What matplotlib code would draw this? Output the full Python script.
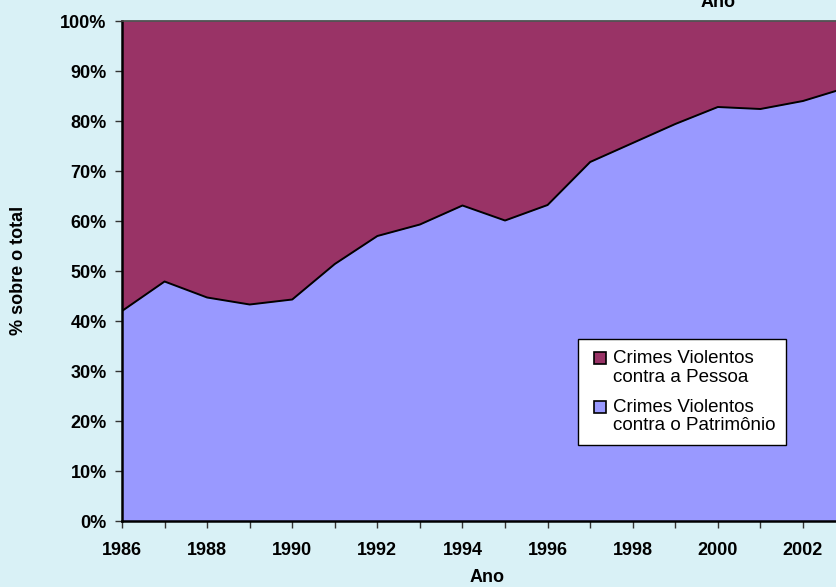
import numpy as np
import matplotlib
matplotlib.use("Agg")
import matplotlib.pyplot as plt
from matplotlib.lines import Line2D
from matplotlib.legend_handler import HandlerLine2D

plt.rcParams['font.family'] = ['Liberation Sans', 'DejaVu Sans']

anos = [1986, 1987, 1988, 1989, 1990, 1991, 1992, 1993, 1994,
        1995, 1996, 1997, 1998, 1999, 2000, 2001, 2002, 2003]
patrimonio = [42.0, 47.9, 44.7, 43.3, 44.3, 51.4, 57.0, 59.3, 63.1,
              60.1, 63.2, 71.8, 75.6, 79.4, 82.8, 82.4, 84.0, 86.6]
pessoa = [58.0, 52.1, 55.3, 56.7, 55.7, 48.6, 43.0, 40.7, 36.9,
          39.9, 36.8, 28.2, 24.4, 20.6, 17.2, 17.6, 16.0, 13.4]
rotulos = ["Crimes Violentos\ncontra a Pessoa",
           "Crimes Violentos\ncontra o Patrimônio"]

cor_pessoa = '#993366'
cor_patr = '#9999ff'
fundo = '#d9f1f6'


# marcador da legenda alinhado com a primeira linha do texto
class MarcadorTopo(HandlerLine2D):
    def create_artists(self, legend, orig_handle, xdescent, ydescent,
                       width, height, fontsize, trans):
        arts = super().create_artists(legend, orig_handle, xdescent, ydescent,
                                      width, height, fontsize, trans)
        for a in arts:
            a.set_ydata(np.asarray(a.get_ydata()) + 0.5 * fontsize)
        return arts


fig = plt.figure(figsize=(8.37, 5.87), dpi=100)
fig.patch.set_facecolor(fundo)
W, H = 837, 587
x0, x1 = 122, 845.5
y0, y1 = 521, 21
ax = fig.add_axes([x0 / W, 1 - y0 / H, (x1 - x0) / W, (y0 - y1) / H])
ax.set_facecolor(fundo)

x = np.array(anos)
baixo = np.array(patrimonio)
topo = baixo + np.array(pessoa)
ax.fill_between(x, 0, baixo, color=cor_patr, lw=0)
ax.fill_between(x, baixo, topo, color=cor_pessoa, lw=0)
ax.plot(x, baixo, color='black', lw=1.4)

ax.set_xlim(anos[0], anos[-1])
ax.set_ylim(0, 100)
ax.set_xticks(anos)
ax.set_xticklabels([str(a) if a % 2 == 0 else '' for a in anos])
ax.set_yticks(range(0, 101, 10))
ax.set_yticklabels([f'{v}%' for v in range(0, 101, 10)])
ax.tick_params(direction='out', length=5, width=1, pad=6,
               labelsize=13, color='#333333')
for lab in ax.get_xticklabels() + ax.get_yticklabels():
    lab.set_fontweight('bold')
ax.tick_params(axis='x', pad=10)

for s in ['left', 'bottom']:
    ax.spines[s].set_linewidth(1.8)
    ax.spines[s].set_color('black')
ax.spines['top'].set_linewidth(1.2)
ax.spines['top'].set_color('#444444')
ax.spines['right'].set_visible(False)

ax.set_xlabel('Ano', fontsize=13, fontweight='bold')
ax.xaxis.set_label_coords((487 - x0) / (x1 - x0), -(578 - y0) / (y0 - y1))
ax.xaxis.label.set_va('center')
ax.set_ylabel('% sobre o total', fontsize=13, fontweight='bold')
ax.yaxis.set_label_coords(-(x0 - 19) / (x1 - x0), (y0 - 270) / (y0 - y1))
ax.yaxis.label.set_va('center')

fig.text(718 / W, 1 - 7 / H, 'Ano', ha='center', va='baseline',
         fontsize=13, fontweight='bold')

handles = [Line2D([], [], ls='', marker='s', markersize=8.8,
                  markerfacecolor=c, markeredgecolor='black', markeredgewidth=1.2)
           for c in (cor_pessoa, cor_patr)]
leg = ax.legend(handles, rotulos, loc='upper left',
                bbox_to_anchor=((578 - x0) / (x1 - x0), (y0 - 339) / (y0 - y1)),
                frameon=True, fancybox=False, fontsize=13.5, handlelength=1.2,
                handletextpad=0.05, borderpad=0.6, labelspacing=0.7,
                borderaxespad=0, framealpha=1,
                handler_map={Line2D: MarcadorTopo()})
for t in leg.get_texts():
    t.set_linespacing(1.1)
leg.get_frame().set_edgecolor('black')
leg.get_frame().set_linewidth(1)
leg.get_frame().set_facecolor('white')

fig.savefig('out.png', dpi=100, facecolor=fundo)
